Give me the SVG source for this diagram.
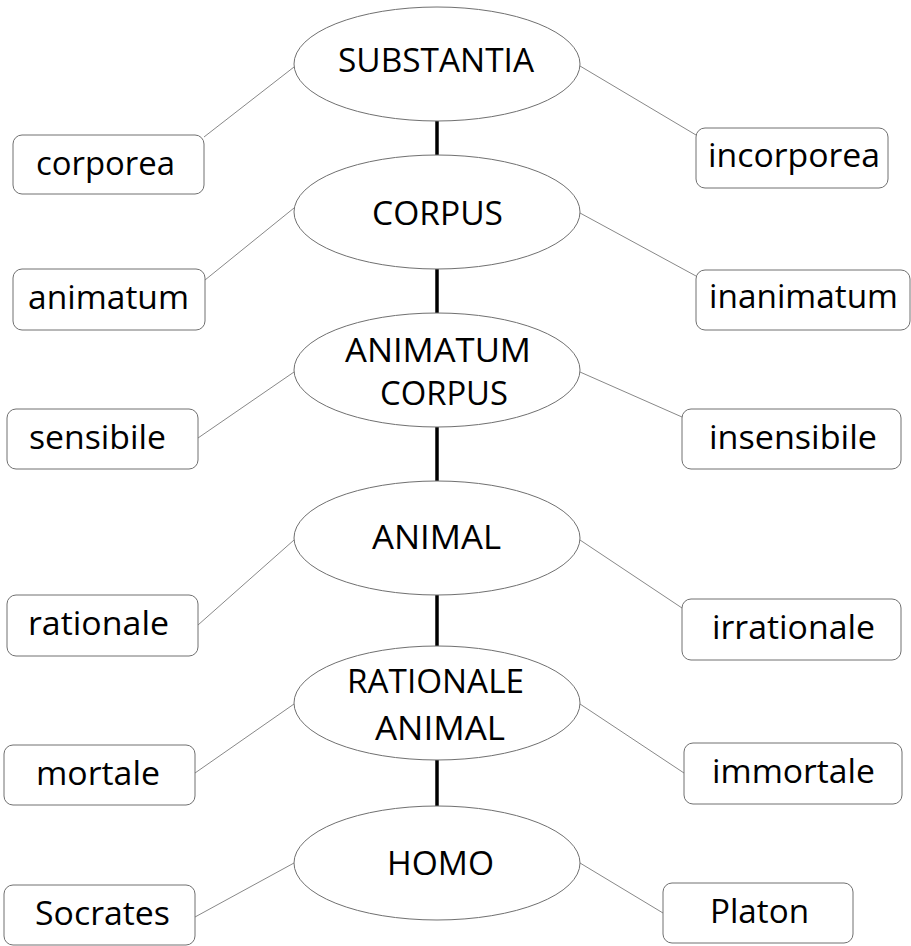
<svg xmlns="http://www.w3.org/2000/svg" width="911" height="946" viewBox="0 0 911 946">
<style>
.el{fill:#fff;stroke:#707070;stroke-width:1}
.bx{fill:#fff;stroke:#707070;stroke-width:1}
.t{font-family:"Open Sans","Liberation Sans",sans-serif;font-size:33px;fill:#000}
.c{stroke:#888;stroke-width:1;fill:none}
.v{stroke:#000;stroke-width:3.5;fill:none}
</style>
<rect width="911" height="946" fill="#fff"/>
<g id="connectors">
<line class="c" x1="294" y1="67" x2="204" y2="137"/>
<line class="c" x1="580" y1="66" x2="696" y2="135"/>
<line class="c" x1="294" y1="208" x2="205" y2="280"/>
<line class="c" x1="580" y1="213" x2="696" y2="276"/>
<line class="c" x1="294" y1="372" x2="198" y2="438"/>
<line class="c" x1="580" y1="372" x2="682" y2="417"/>
<line class="c" x1="294" y1="540" x2="198" y2="625"/>
<line class="c" x1="580" y1="540" x2="682" y2="608"/>
<line class="c" x1="294" y1="704" x2="195" y2="773"/>
<line class="c" x1="580" y1="704" x2="684" y2="773"/>
<line class="c" x1="294" y1="863" x2="195" y2="917"/>
<line class="c" x1="580" y1="863" x2="663" y2="913"/>
<line class="v" x1="437" y1="121" x2="437" y2="155"/>
<line class="v" x1="437" y1="269" x2="437" y2="313"/>
<line class="v" x1="437" y1="427" x2="437" y2="482"/>
<line class="v" x1="437" y1="595" x2="437" y2="646"/>
<line class="v" x1="437" y1="760" x2="437" y2="807"/>
</g>
<g id="substantia"><ellipse class="el" cx="437" cy="64" rx="143" ry="57"/><text class="t" x="338" y="72" textLength="196" lengthAdjust="spacingAndGlyphs">SUBSTANTIA</text></g>
<g id="corporea"><rect class="bx" x="13" y="135" width="191" height="59" rx="9"/><text class="t" x="36" y="175" textLength="139" lengthAdjust="spacingAndGlyphs">corporea</text></g>
<g id="incorporea"><rect class="bx" x="696" y="128" width="192" height="60" rx="9"/><text class="t" x="708" y="167" textLength="172" lengthAdjust="spacingAndGlyphs">incorporea</text></g>
<g id="corpus"><ellipse class="el" cx="437" cy="212" rx="143" ry="57"/><text class="t" x="372" y="225" textLength="131" lengthAdjust="spacingAndGlyphs">CORPUS</text></g>
<g id="animatum"><rect class="bx" x="13" y="269" width="192" height="61" rx="9"/><text class="t" x="28" y="309" textLength="161" lengthAdjust="spacingAndGlyphs">animatum</text></g>
<g id="inanimatum"><rect class="bx" x="696" y="270" width="214" height="60" rx="9"/><text class="t" x="709" y="308" textLength="189" lengthAdjust="spacingAndGlyphs">inanimatum</text></g>
<g id="animatum-corpus"><ellipse class="el" cx="437" cy="370" rx="143" ry="57"/><text class="t" x="345" y="362" textLength="186" lengthAdjust="spacingAndGlyphs">ANIMATUM</text><text class="t" x="380" y="405" textLength="128" lengthAdjust="spacingAndGlyphs">CORPUS</text></g>
<g id="sensibile"><rect class="bx" x="7" y="409" width="191" height="60" rx="9"/><text class="t" x="29" y="449" textLength="137" lengthAdjust="spacingAndGlyphs">sensibile</text></g>
<g id="insensibile"><rect class="bx" x="682" y="409" width="219" height="60" rx="9"/><text class="t" x="709" y="449" textLength="168" lengthAdjust="spacingAndGlyphs">insensibile</text></g>
<g id="animal"><ellipse class="el" cx="437" cy="538" rx="143" ry="57"/><text class="t" x="372" y="549" textLength="129" lengthAdjust="spacingAndGlyphs">ANIMAL</text></g>
<g id="rationale"><rect class="bx" x="7" y="595" width="191" height="61" rx="9"/><text class="t" x="28" y="635" textLength="141" lengthAdjust="spacingAndGlyphs">rationale</text></g>
<g id="irrationale"><rect class="bx" x="682" y="599" width="219" height="61" rx="9"/><text class="t" x="712" y="639" textLength="163" lengthAdjust="spacingAndGlyphs">irrationale</text></g>
<g id="rationale-animal"><ellipse class="el" cx="437" cy="703" rx="143" ry="57"/><text class="t" x="347" y="693" textLength="177" lengthAdjust="spacingAndGlyphs">RATIONALE</text><text class="t" x="375" y="740" textLength="130" lengthAdjust="spacingAndGlyphs">ANIMAL</text></g>
<g id="mortale"><rect class="bx" x="4" y="745" width="191" height="60" rx="9"/><text class="t" x="36" y="785" textLength="124" lengthAdjust="spacingAndGlyphs">mortale</text></g>
<g id="immortale"><rect class="bx" x="684" y="743" width="218" height="61" rx="9"/><text class="t" x="712" y="783" textLength="163" lengthAdjust="spacingAndGlyphs">immortale</text></g>
<g id="homo"><ellipse class="el" cx="437" cy="863" rx="143" ry="57"/><text class="t" x="387" y="875" textLength="107" lengthAdjust="spacingAndGlyphs">HOMO</text></g>
<g id="socrates"><rect class="bx" x="4" y="885" width="191" height="60" rx="9"/><text class="t" x="35" y="925" textLength="135" lengthAdjust="spacingAndGlyphs">Socrates</text></g>
<g id="platon"><rect class="bx" x="663" y="883" width="190" height="60" rx="9"/><text class="t" x="710" y="923" textLength="99" lengthAdjust="spacingAndGlyphs">Platon</text></g>
</svg>
